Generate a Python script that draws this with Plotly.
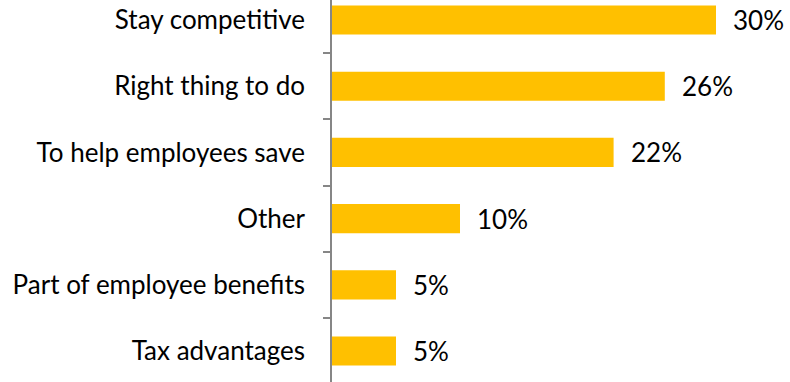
import plotly.graph_objects as go

# Reasons for offering the plan, share of respondents (%)
reasons = [
    "Stay competitive",
    "Right thing to do",
    "To help employees save",
    "Other",
    "Part of employee benefits",
    "Tax advantages",
]
shares = [30, 26, 22, 10, 5, 5]
share_labels = [f"{v}%" for v in shares]

BAR_COLOR = "#FFC000"
AXIS_COLOR = "#868686"
FONT = "Lato"
FONT_SIZE = 26

fig = go.Figure(
    go.Bar(
        x=shares,
        y=reasons,
        orientation="h",
        marker=dict(color=BAR_COLOR, line=dict(width=0)),
        width=0.44,
        hoverinfo="skip",
    )
)

# value labels to the right of each bar
for r, v, lab in zip(reasons, shares, share_labels):
    fig.add_annotation(
        x=v, y=r, text=lab, showarrow=False,
        xanchor="left", yanchor="middle", xshift=15,
        font=dict(family=FONT, size=FONT_SIZE, color="#000000"),
    )

fig.update_layout(
    width=790,
    height=382,
    margin=dict(l=332, r=0, t=0, b=0),
    paper_bgcolor="white",
    plot_bgcolor="white",
    showlegend=False,
    xaxis=dict(
        range=[0, 458 / 12.8],
        visible=False,
        fixedrange=True,
    ),
    yaxis=dict(
        type="category",
        categoryorder="array",
        categoryarray=reasons,
        range=[5.468, -0.302],
        showline=True,
        linecolor=AXIS_COLOR,
        linewidth=1.5,
        ticks="outside",
        tickson="boundaries",
        ticklen=7,
        tickcolor=AXIS_COLOR,
        tickwidth=1.5,
        ticklabelstandoff=20,
        showgrid=False,
        zeroline=False,
        tickfont=dict(family=FONT, size=FONT_SIZE, color="#000000"),
        fixedrange=True,
    ),
)

fig.write_html("out.html")
